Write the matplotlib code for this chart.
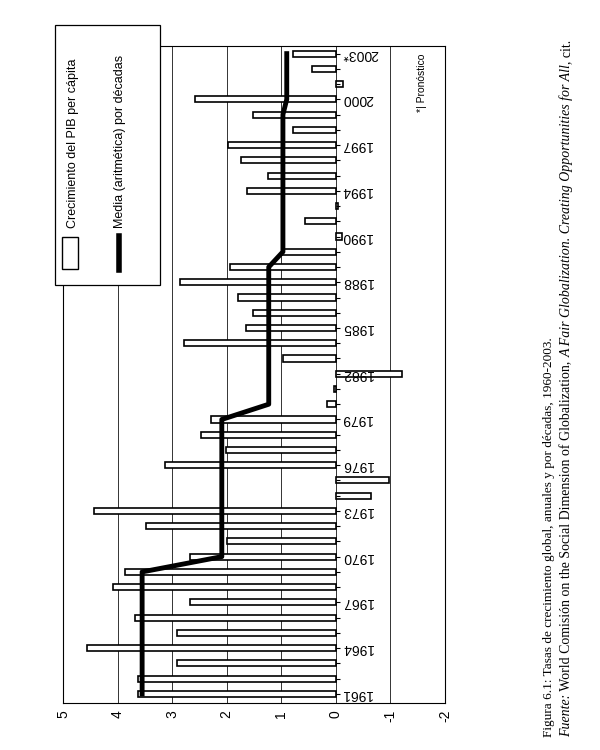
import matplotlib.pyplot as plt
from matplotlib.patches import Rectangle
from matplotlib.lines import Line2D

plt.rcParams['font.family'] = ['Liberation Sans', 'DejaVu Sans']
plt.rcParams['axes.unicode_minus'] = False

# datos
anos = list(range(1961, 2004))
crecimiento = [3.62, 3.62, 2.91, 4.56, 2.91, 3.68, 2.68, 4.08, 3.87,
               2.68, 2.00, 3.48, 4.44, -0.65, -0.98, 3.13, 2.02, 2.48, 2.28,
               0.17, 0.03, -1.22, 0.96, 2.78, 1.65, 1.51, 1.80, 2.85, 1.94,
               0.98, -0.12, 0.57, -0.04, 1.63, 1.24, 1.74, 1.97, 0.78, 1.51,
               2.59, -0.13, 0.44, 0.78]
decadas = [1960, 1970, 1980, 1990, 2000]
media_decadas = [3.55, 2.09, 1.23, 0.97, 0.90]
anos_etiqueta = [1961, 1964, 1967, 1970, 1973, 1976, 1979, 1982, 1985,
                 1988, 1991, 1994, 1997, 2000, 2003]
textos_etiqueta = ['1961', '1964', '1967', '1970', '1973', '1976', '1979',
                   '1982', '1985', '1988', '1990', '1994', '1997', '2000',
                   '2003*']
valores_ticks = [5, 4, 3, 2, 1, 0, -1, -2]

media = [media_decadas[decadas.index(a // 10 * 10)] for a in anos]

fig = plt.figure(figsize=(6, 7.5), dpi=100)
ax = fig.add_axes([63 / 600, 1 - 703 / 750, (445 - 63) / 600, (703 - 46) / 750])

ax.barh(anos, crecimiento, height=0.4, color='white', edgecolor='black',
        linewidth=1.2, zorder=3)
ax.plot(media, anos, color='black', linewidth=3.5, zorder=4)

ax.set_xlim(5, -2)
ax.set_ylim(1960.4, 2003.5)
ax.set_xticks(valores_ticks)
ax.set_xticklabels([str(v) for v in valores_ticks], rotation=90, fontsize=10)
ax.tick_params(axis='x', length=0, pad=5)
ax.set_yticks([])
for v in valores_ticks:
    ax.axvline(v, color='#333333', linewidth=0.7, zorder=1)
for s in ax.spines.values():
    s.set_linewidth(0.8)

# marcas de los anos sobre la linea del cero
ax.hlines(anos, 0, -0.08, color='black', linewidth=0.8, zorder=3)
for a, t in zip(anos_etiqueta, textos_etiqueta):
    ax.text(-0.11, a, t, rotation=180, ha='left', va='center', fontsize=10,
            zorder=5)

ax.text(-1.57, 2001.1, '*| Pronóstico', rotation=90, ha='center',
        va='center', fontsize=7.5)

# leyenda
fig.add_artist(Rectangle((55 / 600, 1 - 285 / 750), 105 / 600, 260 / 750,
                         transform=fig.transFigure, facecolor='white',
                         edgecolor='black', linewidth=0.9, zorder=5))
fig.add_artist(Rectangle((62 / 600, 1 - 269 / 750), 16 / 600, 32 / 750,
                         transform=fig.transFigure, facecolor='white',
                         edgecolor='black', linewidth=1.0, zorder=6))
fig.add_artist(Line2D([119 / 600, 119 / 600], [1 - 270 / 750, 1 - 236 / 750],
                      transform=fig.transFigure, color='black', linewidth=4,
                      zorder=6))
fig.text(73 / 600, 1 - 228 / 750, 'Crecimiento del PIB per cápita',
         rotation=90, ha='center', va='bottom', fontsize=9, zorder=7)
fig.text(120 / 600, 1 - 228 / 750, 'Media (aritmética) por décadas',
         rotation=90, ha='center', va='bottom', fontsize=9, zorder=7)

# pie de figura
fig.text(549 / 600, 1 - 737 / 750,
         'Figura 6.1: Tasas de crecimiento global, anuales y por décadas, 1960-2003.',
         rotation=90, ha='center', va='bottom', fontsize=9.5,
         family='Liberation Serif')

partes = [('Fuente:', 'italic'),
          (' World Comisión on the Social Dimension of Globalization, ', 'normal'),
          ('A Fair Globalization. Creating Opportunities for All', 'italic'),
          (', cit.', 'normal')]
prev = fig.text(567 / 600, 1 - 737 / 750, partes[0][0], rotation=90,
                ha='center', va='bottom', fontsize=10,
                family='Liberation Serif', style=partes[0][1])
# encadenar cada trozo al final del anterior
for texto, estilo in partes[1:]:
    prev = fig.add_artist(plt.Annotation(
        texto, xy=(0.5, 1.0), xycoords=prev, rotation=90, ha='center',
        va='bottom', fontsize=10, family='Liberation Serif', style=estilo))

fig.savefig('out.png', dpi=100, facecolor='white')
